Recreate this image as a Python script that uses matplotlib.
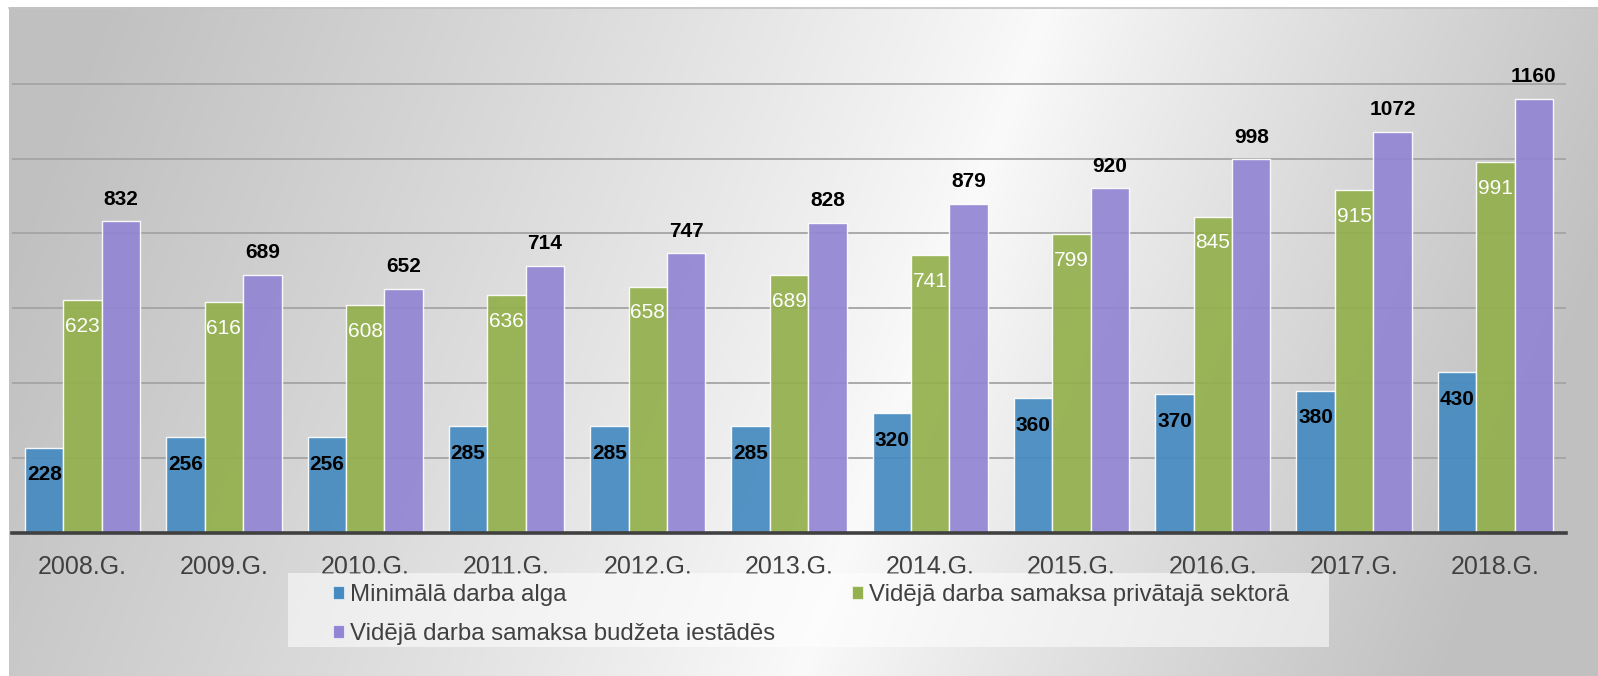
import numpy as np
import matplotlib
matplotlib.use("Agg")
from matplotlib import pyplot as plt
from matplotlib.patches import Rectangle, Patch

years = ["2008.G.", "2009.G.", "2010.G.", "2011.G.", "2012.G.", "2013.G.",
         "2014.G.", "2015.G.", "2016.G.", "2017.G.", "2018.G."]
min_alga = [228, 256, 256, 285, 285, 285, 320, 360, 370, 380, 430]
privatais = [623, 616, 608, 636, 658, 689, 741, 799, 845, 915, 991]
budzets = [832, 689, 652, 714, 747, 828, 879, 920, 998, 1072, 1160]

series_names = [
    "Minimālā darba alga",
    "Vidējā darba samaksa privātajā sektorā",
    "Vidējā darba samaksa budžeta iestādēs",
]
colors = ["#458AC0", "#93B04C", "#9286D4"]

plt.rcParams['font.family'] = ['Liberation Sans', 'DejaVu Sans']

W, H = 1598, 676
fig = plt.figure(figsize=(W / 100, H / 100), dpi=100)
fig.patch.set_facecolor("white")

# gradient panel behind the chart
bg = fig.add_axes([0, 0, 1, 1])
bg.axis("off")
yy, xx = np.mgrid[0:H, 0:W]
d = xx - (1050 - 0.37 * yy)
t = np.where(d < 0, np.clip(-d / 950, 0, 1), np.clip(d / 650, 0, 1))
v = (250 - 58 * t ** 0.9) / 255
img = np.dstack([v, v, v])
img[:7, :] = 1
img[:, :9] = 1
bg.imshow(img, extent=(0, W, H, 0), aspect="auto", interpolation="bilinear")
bg.plot([9, W], [7.5, 7.5], color="#c4c4c4", lw=1.2)
bg.set_xlim(0, W)
bg.set_ylim(H, 0)

# legend box
fig.patches.append(Rectangle((288 / W, 29 / H), (1329 - 288) / W, 74 / H,
                             transform=fig.transFigure, facecolor="white",
                             alpha=0.55, edgecolor="none", zorder=1))

ppu = 0.3745
ymax = 1380
ax = fig.add_axes([12 / W, 143 / H, 1554 / W, ymax * ppu / H])
ax.patch.set_alpha(0)
x = np.arange(len(years))
bw = 0.272

ax.set_xlim(-0.5, len(years) - 0.5)
ax.set_ylim(0, ymax)
ax.set_yticks(range(0, 1400, 200))
ax.yaxis.grid(True, color="#a4a4a4", lw=1.3)
ax.set_axisbelow(True)
ax.tick_params(axis="y", left=False, labelleft=False)
ax.tick_params(axis="x", bottom=False, pad=12, labelsize=18, labelcolor="#404040")
ax.set_xticks(x)
ax.set_xticklabels(years)
for s in ["top", "left", "right"]:
    ax.spines[s].set_visible(False)
ax.spines["bottom"].set_color("#404040")
ax.spines["bottom"].set_linewidth(2.6)
ax.spines["bottom"].set_zorder(6)

edge = (1, 1, 1, 0.55)
b1 = ax.bar(x - bw, min_alga, bw, color=colors[0], alpha=0.92, edgecolor=edge, lw=1, zorder=2)
b2 = ax.bar(x, privatais, bw, color=colors[1], alpha=0.92, edgecolor=edge, lw=1, zorder=2)
for xi, val in zip(x, privatais):
    ax.annotate(str(val), (xi, val), xytext=(0, -19), textcoords="offset points",
                ha="center", va="center", fontsize=15, color="white", zorder=3)
b3 = ax.bar(x + bw, budzets, bw, color=colors[2], alpha=0.92, edgecolor=edge, lw=1, zorder=4)
for xi, val in zip(x, min_alga):
    ax.annotate(str(val), (xi - bw, val), xytext=(0, -19.5), textcoords="offset points",
                ha="center", va="center", fontsize=15, fontweight="bold", color="black", zorder=5)
for xi, val in zip(x, budzets):
    ax.annotate(str(val), (xi + bw, val), xytext=(0, 16), textcoords="offset points",
                ha="center", va="center", fontsize=15, fontweight="bold", color="black", zorder=5)

handles = [Patch(facecolor=c, edgecolor=(1, 1, 1, 0.6), lw=0.8) for c in colors]
order = [0, 2, 1]
leg = fig.legend([handles[i] for i in order], [series_names[i] for i in order],
                 ncol=2, loc="upper left", bbox_to_anchor=(333 / W, 1 - 584 / H),
                 frameon=False, borderpad=0, borderaxespad=0, fontsize=17.25,
                 handlelength=0.46, handleheight=0.46, handletextpad=0.25,
                 columnspacing=3.2, labelspacing=0.72, labelcolor="#404040")

fig.savefig("out.png", dpi=100)
